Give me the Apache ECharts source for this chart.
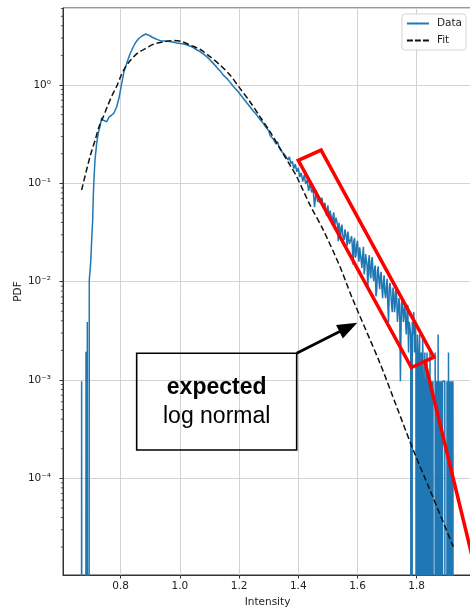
<!DOCTYPE html>
<html>
<head>
<meta charset="utf-8">
<script src="https://cdn.jsdelivr.net/npm/echarts@6/dist/echarts.min.js"></script>
<style>
  html, body { margin: 0; padding: 0; background: #fff; }
  #chart { width: 470px; height: 613px; }
</style>
</head>
<body>
<div id="chart"></div>
<script>
// Histogram-estimated PDF of the measured intensity, in four stretches (0 = empty bin)
// Onset, rise and peak
const headIntensity = [
  0.664, 0.668, 0.672, 0.680, 0.6828, 0.685, 0.6872, 0.689,
  0.6939, 0.6986, 0.702, 0.7054, 0.7074, 0.7098, 0.7132, 0.7189, 0.7243, 0.730,
  0.7358, 0.7402, 0.745, 0.7527, 0.7605, 0.765, 0.7696, 0.7774, 0.7865, 0.7943,
  0.8034, 0.8111, 0.8203, 0.8314, 0.8426, 0.8517, 0.8618, 0.872, 0.8845, 0.8922,
  0.900, 0.9068, 0.9193, 0.927, 0.9351, 0.9497, 0.960, 0.9689, 0.980, 0.9902,
  1.002, 1.0139, 1.027, 1.0409, 1.054, 1.0679, 1.080, 1.0916, 1.102, 1.1128,
  1.121, 1.1287, 1.138, 1.1466, 1.158, 1.1693, 1.180, 1.1919, 1.203, 1.2132,
  1.225, 1.2368, 1.247, 1.2571, 1.269, 1.2818, 1.290, 1.295
];
const headPdf = [
  0, 0.00097, 0, 0, 0.00194, 0, 0.0039, 0,
  0.0104, 0.0155, 0.0265, 0.0424, 0.0731, 0.112, 0.173, 0.255, 0.325, 0.377,
  0.462, 0.44, 0.455, 0.423, 0.472, 0.465, 0.495, 0.519, 0.601, 0.737,
  1.04, 1.36, 1.66, 2.07, 2.45, 2.74, 2.99, 3.15, 3.30, 3.23,
  3.15, 3.06, 2.94, 2.88, 2.82, 2.80, 2.78, 2.76, 2.72, 2.67,
  2.64, 2.61, 2.54, 2.44, 2.31, 2.18, 2.06, 1.93, 1.80, 1.66,
  1.56, 1.46, 1.37, 1.26, 1.17, 1.07, 0.97, 0.889, 0.81, 0.738,
  0.664, 0.601, 0.548, 0.507, 0.452, 0.408, 0.373, 0.361
];
// Shoulder of the tail
const shoulderIntensity = [
  1.300, 1.305, 1.310, 1.315, 1.320, 1.325, 1.330, 1.335, 1.340, 1.345,
  1.350, 1.355, 1.360, 1.365, 1.370, 1.375, 1.380, 1.385, 1.390, 1.395,
  1.400, 1.405, 1.410, 1.415, 1.420, 1.425, 1.430, 1.435, 1.440, 1.445,
  1.450, 1.455, 1.460, 1.465, 1.470, 1.475, 1.480, 1.485, 1.490, 1.495
];
const shoulderPdf = [
  0.342, 0.307, 0.315, 0.283, 0.284, 0.251, 0.265, 0.233, 0.239, 0.210,
  0.219, 0.194, 0.202, 0.173, 0.186, 0.159, 0.167, 0.141, 0.157, 0.131,
  0.144, 0.116, 0.128, 0.104, 0.121, 0.0987, 0.108, 0.0840, 0.101, 0.0810,
  0.0882, 0.0572, 0.0850, 0.0659, 0.0690, 0.0640, 0.0713, 0.0555, 0.0633, 0.0468
];
// Noisy heavy tail
const tailIntensity = [
  1.500, 1.5025, 1.505, 1.5075, 1.510, 1.5125, 1.515, 1.5175, 1.520, 1.5225,
  1.525, 1.5275, 1.530, 1.5325, 1.535, 1.5375, 1.540, 1.5425, 1.545, 1.5475,
  1.550, 1.5525, 1.555, 1.5575, 1.560, 1.5625, 1.565, 1.5675, 1.570, 1.5725,
  1.575, 1.5775, 1.580, 1.5825, 1.585, 1.5875, 1.590, 1.5925, 1.595, 1.5975,
  1.600, 1.6025, 1.605, 1.6075, 1.610, 1.6125, 1.615, 1.6175, 1.620, 1.6225,
  1.625, 1.6275, 1.630, 1.6325, 1.635, 1.6375, 1.640, 1.6425, 1.645, 1.6475,
  1.650, 1.6525, 1.655, 1.6575, 1.660, 1.6625, 1.665, 1.6675, 1.670, 1.6725,
  1.675, 1.6775, 1.680, 1.6825, 1.685, 1.6875, 1.690, 1.6925, 1.695, 1.6975,
  1.700, 1.7025, 1.705, 1.7075, 1.710, 1.7125, 1.715, 1.7175, 1.720, 1.7225,
  1.725, 1.7275, 1.730, 1.7325, 1.735, 1.7375, 1.740, 1.7425, 1.745, 1.7475,
  1.750, 1.7525, 1.755, 1.7575, 1.760, 1.7625, 1.765, 1.7675, 1.770, 1.7725,
  1.775, 1.7775, 1.780
];
const tailPdf = [
  0.0599, 0.0488, 0.0446, 0.0529, 0.0536, 0.0435, 0.0375, 0.0469, 0.0507, 0.0363,
  0.0375, 0.0448, 0.0450, 0.0377, 0.0258, 0.0398, 0.0417, 0.0284, 0.0355, 0.0380,
  0.0300, 0.0298, 0.0265, 0.0340, 0.0338, 0.0280, 0.0230, 0.0324, 0.0330, 0.0242,
  0.0231, 0.0270, 0.0291, 0.0228, 0.0149, 0.0257, 0.0279, 0.0175, 0.0186, 0.0240,
  0.0261, 0.0194, 0.0160, 0.0224, 0.0225, 0.0164, 0.0138, 0.0187, 0.0226, 0.0119,
  0.0136, 0.0191, 0.0198, 0.0143, 0.0083, 0.0160, 0.0186, 0.0120, 0.0108, 0.0162,
  0.0178, 0.0116, 0.0101, 0.0135, 0.0146, 0.0071, 0.0081, 0.0129, 0.0143, 0.0102,
  0.0084, 0.0114, 0.0126, 0.0087, 0.0068, 0.0097, 0.0116, 0.0078, 0.0068, 0.0087,
  0.0107, 0.0058, 0.0039, 0.0087, 0.0097, 0.0078, 0.0058, 0.0049, 0.0087, 0.0078,
  0.0049, 0.0058, 0.0087, 0.0068, 0.0039, 0.0049, 0.0068, 0.0058, 0.00097, 0.0039,
  0.0068, 0.0058, 0.0039, 0.0049, 0.0058, 0.0039, 0.0029, 0.0049, 0.0058, 0.0019,
  0.0039, 0.0039, 0.0029
];
// Sparse single-count bins at the far end
const edgeIntensity = [
  1.7825, 1.785, 1.7875, 1.790, 1.7925, 1.795, 1.7975, 1.800, 1.8025, 1.805,
  1.8075, 1.810, 1.8125, 1.815, 1.8175, 1.820, 1.8225, 1.825, 1.8275, 1.830,
  1.8325, 1.835, 1.8375, 1.840, 1.8425, 1.845, 1.8475, 1.850, 1.8525, 1.855,
  1.8575, 1.860, 1.8625, 1.865, 1.8675, 1.870, 1.8725, 1.875, 1.8775, 1.880,
  1.8825, 1.885, 1.8875, 1.890, 1.8925, 1.895, 1.8975, 1.900, 1.9025, 1.905,
  1.9075, 1.910, 1.9125, 1.915, 1.9175, 1.920, 1.9225, 1.925
];
const edgePdf = [
  0, 0.0039, 0.0029, 0.0049, 0.0019, 0.0039, 0.0019, 0, 0.0029, 0,
  0.0019, 0.0029, 0, 0.0019, 0, 0.0029, 0.00097, 0, 0.0019, 0,
  0.00097, 0.0019, 0, 0.00097, 0, 0.0019, 0, 0.00097, 0, 0.00097,
  0.00097, 0, 0.0019, 0, 0.00097, 0, 0.0029, 0, 0.00097, 0,
  0.00097, 0, 0.00097, 0.00097, 0.00097, 0.00097, 0.00097, 0, 0.00097, 0,
  0.0019, 0, 0.00097, 0, 0.00097, 0, 0.00097, 0
];

// Fitted log-normal density
const fitIntensity = [
  0.668, 0.6963, 0.7155, 0.7267, 0.7412, 0.7547, 0.7716, 0.7885, 0.802, 0.8169,
  0.8338, 0.8561, 0.8845, 0.9125, 0.9463, 0.975, 1.005, 1.0341, 1.0679, 1.1017,
  1.1355, 1.1693, 1.203, 1.2368, 1.2706, 1.3044, 1.3382, 1.372, 1.3946, 1.4395,
  1.4845, 1.5409, 1.5804, 1.6761, 1.7324, 1.7885, 1.8449, 1.9236
];
const fitPdf = [
  0.0855, 0.1866, 0.287, 0.377, 0.476, 0.601, 0.791, 1.0, 1.265, 1.535,
  1.795, 2.10, 2.36, 2.61, 2.75, 2.83, 2.78, 2.55, 2.31, 1.94,
  1.60, 1.265, 0.925, 0.676, 0.476, 0.335, 0.227, 0.153, 0.117, 0.0603,
  0.0335, 0.0142, 0.00703, 0.00148, 0.000535, 0.000194, 0.000076, 0.0000202
];

// Axis ranges and labelled decades
const xRange = [0.6051, 1.9869];
const yRange = [1.04e-5, 6.07];
const yDecades = [-4, -3, -2, -1, 0];

// Annotation anchors, in (intensity, pdf)
const highlightBox = [[1.400, 0.171], [1.477, 0.218], [1.858, 0.00171], [1.782, 0.00134]];
const highlightLeader = [[1.828, 0.00152], [2.007, 0.0000092]];
const noteBox = [[0.854, 0.001868], [1.3946, 0.000194]];
const noteLines = [
  { text: 'expected', at: [1.1243, 0.000829], weight: 'bold' },
  { text: 'log normal', at: [1.1243, 0.000423], weight: 'normal' }
];
const noteArrow = [[1.3946, 0.001868], [1.5993, 0.00383]];

const LOG_FLOOR = 1e-30; // empty bins fall off the bottom of the log axis
const FONT = '"DejaVu Sans", sans-serif';
const SUP = { '-': '\u207B', '0': '\u2070', '1': '\u00B9', '2': '\u00B2', '3': '\u00B3', '4': '\u2074', '5': '\u2075', '6': '\u2076', '7': '\u2077', '8': '\u2078', '9': '\u2079' };

function decadeLabel(v) {
  const e = Math.round(Math.log10(v));
  if (yDecades.indexOf(e) < 0) return '';
  return '10' + String(e).split('').map(c => SUP[c]).join('');
}

// log-axis minor ticks at 2..9 x 10^n
const minorTicks = [];
for (let e = -5; e <= 0; e++) {
  for (let k = 2; k <= 9; k++) {
    const v = k * Math.pow(10, e);
    if (v > yRange[0] && v < yRange[1]) minorTicks.push([xRange[0], v]);
  }
}

const intensity = headIntensity.concat(shoulderIntensity, tailIntensity, edgeIntensity);
const pdf = headPdf.concat(shoulderPdf, tailPdf, edgePdf);

// legend keys: a solid and a dashed stroke
const SOLID_KEY = 'path://M0,0H22V2H0Z';
const DASHED_KEY = 'path://M0,0H6V2H0Z M8,0H14V2H8Z M16,0H22V2H16Z';

const chart = echarts.init(document.getElementById('chart'), null, { renderer: 'canvas' });

const option = {
  animation: false,
  backgroundColor: '#ffffff',
  textStyle: { fontFamily: FONT },
  grid: {
    left: 63, right: -2, top: 8, bottom: 38,
    show: true, borderColor: '#333', borderWidth: 1,
    containLabel: false, outerBoundsMode: 'none'
  },
  legend: {
    data: [{ name: 'Data', icon: SOLID_KEY }, { name: 'Fit', icon: DASHED_KEY }],
    orient: 'vertical',
    right: 4, top: 14,
    itemWidth: 22, itemHeight: 2, itemGap: 6,
    padding: [4, 4, 4, 5],
    borderColor: '#d5d5d5', borderWidth: 1, borderRadius: 3,
    backgroundColor: 'rgba(255,255,255,0.85)',
    textStyle: { fontSize: 10.5, color: '#222', fontFamily: FONT, padding: [0, 0, 0, 3] }
  },
  xAxis: {
    type: 'value',
    min: xRange[0], max: xRange[1],
    splitNumber: 7,
    name: 'Intensity', nameLocation: 'middle', nameGap: 22, nameMoveOverlap: false,
    nameTextStyle: { fontSize: 10.5, color: '#222', fontFamily: FONT },
    axisLine: { show: true, lineStyle: { color: '#333', width: 1 } },
    axisTick: { show: true, length: 3.5, lineStyle: { color: '#333' } },
    axisLabel: {
      fontSize: 10.5, color: '#222', margin: 6, fontFamily: FONT,
      showMinLabel: false, showMaxLabel: false,
      formatter: v => v.toFixed(1)
    },
    splitLine: { show: true, lineStyle: { color: '#d2d2d2', width: 1 } }
  },
  yAxis: {
    type: 'log', logBase: 10,
    min: yRange[0], max: yRange[1],
    name: 'PDF', nameLocation: 'middle', nameGap: 39, nameMoveOverlap: false,
    nameTextStyle: { fontSize: 10.5, color: '#222', fontFamily: FONT },
    axisLine: { show: true, lineStyle: { color: '#333', width: 1 } },
    axisTick: { show: true, length: 3.5, lineStyle: { color: '#333' } },
    axisLabel: {
      fontSize: 10.5, color: '#222', margin: 12, fontFamily: FONT,
      padding: [5, 0, 0, 0],
      showMinLabel: false, showMaxLabel: false,
      formatter: decadeLabel
    },
    splitLine: { show: true, lineStyle: { color: '#d2d2d2', width: 1 } }
  },
  series: [
    {
      name: 'Data', type: 'line',
      data: intensity.map((x, i) => [x, pdf[i] > 0 ? pdf[i] : LOG_FLOOR]),
      symbol: 'none', clip: true, z: 2,
      itemStyle: { color: '#1f77b4' },
      lineStyle: { color: '#1f77b4', width: 1.5 }
    },
    {
      name: 'Fit', type: 'line',
      data: fitIntensity.map((x, i) => [x, fitPdf[i]]),
      symbol: 'none', smooth: 0.3, clip: true, z: 3,
      itemStyle: { color: '#111' },
      lineStyle: { color: '#111', width: 1.5, type: [6, 3] }
    },
    {
      type: 'custom', silent: true, clip: false, z: 5,
      data: minorTicks,
      renderItem: function (params, api) {
        const p = api.coord([api.value(0), api.value(1)]);
        return {
          type: 'line',
          shape: { x1: p[0] - 2.2, y1: p[1], x2: p[0], y2: p[1] },
          style: { stroke: '#333', lineWidth: 0.8 }
        };
      }
    }
  ]
};

chart.setOption(option);

// Annotations placed from data coordinates
const toPx = p => chart.convertToPixel({ gridIndex: 0 }, p);
const boxA = toPx(noteBox[0]), boxB = toPx(noteBox[1]);
const arrowFrom = toPx(noteArrow[0]), arrowTip = toPx(noteArrow[1]);
const dx = arrowTip[0] - arrowFrom[0], dy = arrowTip[1] - arrowFrom[1];
const len = Math.hypot(dx, dy), ux = dx / len, uy = dy / len;
const headLen = 20, headHalf = 7.5;
const baseX = arrowTip[0] - ux * headLen, baseY = arrowTip[1] - uy * headLen;

const graphics = [
  {
    type: 'polygon', z: 20,
    shape: { points: highlightBox.map(toPx) },
    style: { fill: 'none', stroke: '#ff0000', lineWidth: 3.5, lineJoin: 'miter' }
  },
  {
    type: 'line', z: 20,
    shape: (function () { const a = toPx(highlightLeader[0]), b = toPx(highlightLeader[1]); return { x1: a[0], y1: a[1], x2: b[0], y2: b[1] }; })(),
    style: { stroke: '#ff0000', lineWidth: 3.5 }
  },
  {
    type: 'rect', z: 20,
    shape: { x: boxA[0], y: boxA[1], width: boxB[0] - boxA[0], height: boxB[1] - boxA[1] },
    style: { fill: 'none', stroke: '#000', lineWidth: 1.6 }
  },
  {
    type: 'line', z: 20,
    shape: { x1: arrowFrom[0], y1: arrowFrom[1], x2: baseX + ux * 2, y2: baseY + uy * 2 },
    style: { stroke: '#000', lineWidth: 2.8 }
  },
  {
    type: 'polygon', z: 20,
    shape: { points: [arrowTip, [baseX - uy * headHalf, baseY + ux * headHalf], [baseX + uy * headHalf, baseY - ux * headHalf]] },
    style: { fill: '#000', stroke: 'none' }
  }
].concat(noteLines.map(n => {
  const p = toPx(n.at);
  return {
    type: 'text', z: 21,
    x: p[0], y: p[1],
    style: {
      text: n.text, fill: '#000',
      font: n.weight + ' 23px "Liberation Sans", Arial, sans-serif',
      align: 'center', verticalAlign: 'middle',
      textAlign: 'center', textVerticalAlign: 'middle'
    }
  };
}));

chart.setOption({ graphic: graphics });
</script>
</body>
</html>
